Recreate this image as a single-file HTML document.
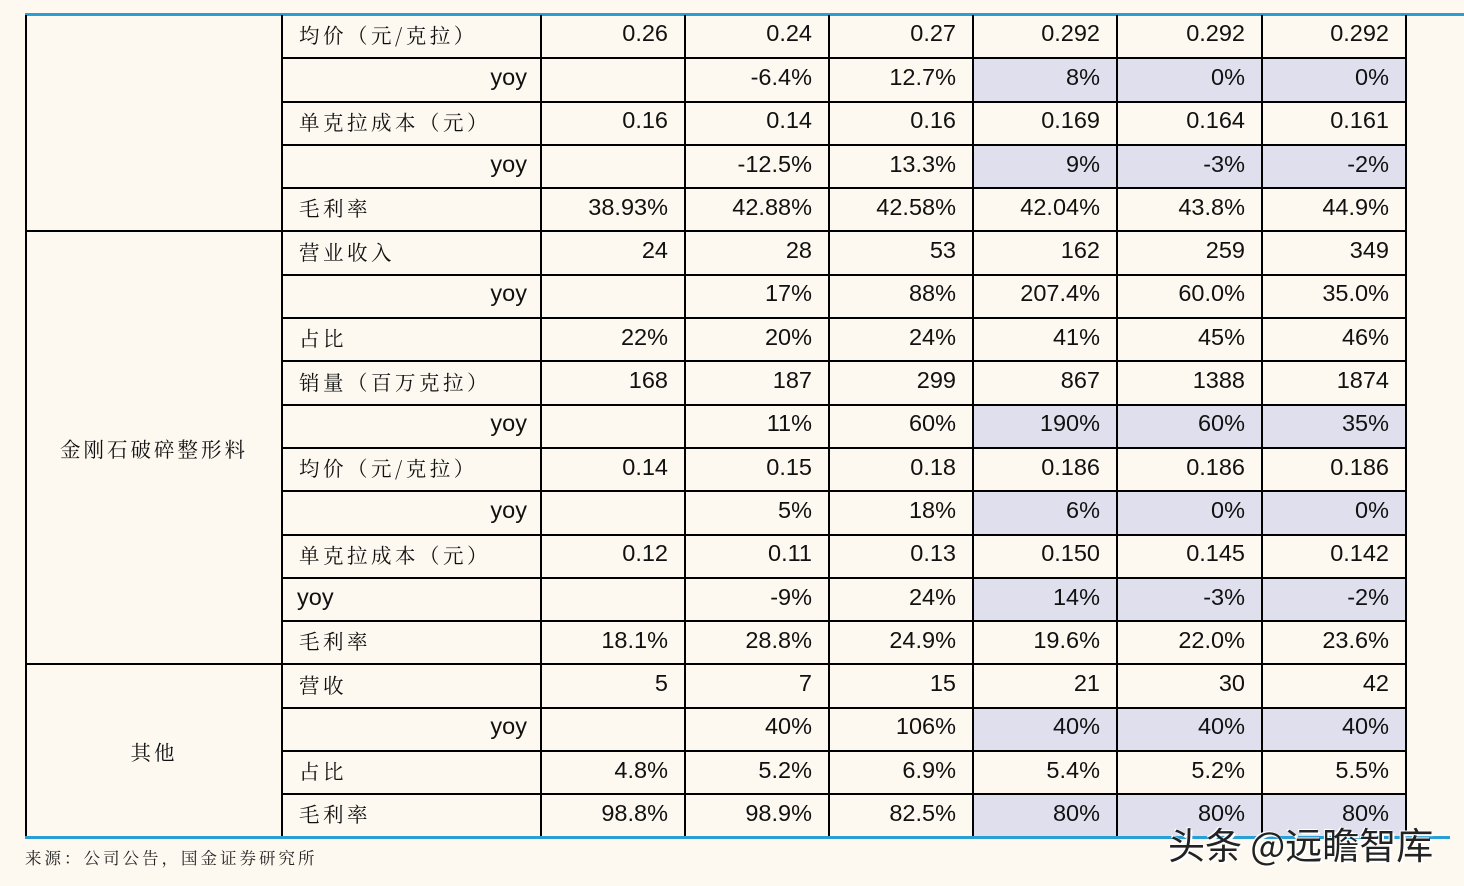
<!DOCTYPE html>
<html><head><meta charset="utf-8"><style>
html,body{margin:0;padding:0;background:#fdf9f0;width:1464px;height:886px;overflow:hidden;position:relative}
table{position:absolute;left:25px;top:15px;border-collapse:collapse;table-layout:fixed;width:1381px}
td{border:2px solid #000;padding:0 16px 5px 0;font-family:"Liberation Sans","Noto Sans CJK SC",sans-serif;font-size:23.5px;color:#111;text-align:right;white-space:nowrap;overflow:hidden}
tr{height:43.3px}
td.l{text-align:left;padding-left:16px;padding-right:0;font-family:"Noto Serif CJK SC","Liberation Serif",serif;font-size:20.5px;letter-spacing:3.5px}
td.y{text-align:right;padding-right:13px}
td.yl{text-align:left;padding-left:14px}
td.g{text-align:center;padding:0;font-family:"Noto Serif CJK SC",serif;font-size:20.5px;letter-spacing:3px;border-left:2px solid #000}
td.s{background:#e0dfee}
tr:first-child td{border-top:none}
.bl{position:absolute;height:3px;background:#2a9fd6}
.src{position:absolute;left:25px;top:845px;font-family:"Noto Serif CJK SC",serif;font-size:16.5px;letter-spacing:3px;color:#222}
.wm{position:absolute;left:1168px;top:816px;font-family:"Noto Sans CJK SC",sans-serif;font-size:37px;color:#222;text-shadow:2px 2px 0 #fff,-1px -1px 0 #fff}
</style></head><body>
<div class="bl" style="left:25px;top:13px;width:1439px"></div>
<table>
<colgroup><col style="width:256px"><col style="width:259px"><col style="width:144px"><col style="width:144px"><col style="width:144px"><col style="width:144px"><col style="width:145px"><col style="width:144px"></colgroup>
<tr><td class="g" rowspan="5"></td><td class="l">均价（元/克拉）</td><td>0.26</td><td>0.24</td><td>0.27</td><td>0.292</td><td>0.292</td><td>0.292</td></tr>
<tr><td class="y">yoy</td><td></td><td>-6.4%</td><td>12.7%</td><td class="s">8%</td><td class="s">0%</td><td class="s">0%</td></tr>
<tr><td class="l">单克拉成本（元）</td><td>0.16</td><td>0.14</td><td>0.16</td><td>0.169</td><td>0.164</td><td>0.161</td></tr>
<tr><td class="y">yoy</td><td></td><td>-12.5%</td><td>13.3%</td><td class="s">9%</td><td class="s">-3%</td><td class="s">-2%</td></tr>
<tr><td class="l">毛利率</td><td>38.93%</td><td>42.88%</td><td>42.58%</td><td>42.04%</td><td>43.8%</td><td>44.9%</td></tr>
<tr><td class="g" rowspan="10">金刚石破碎整形料</td><td class="l">营业收入</td><td>24</td><td>28</td><td>53</td><td>162</td><td>259</td><td>349</td></tr>
<tr><td class="y">yoy</td><td></td><td>17%</td><td>88%</td><td>207.4%</td><td>60.0%</td><td>35.0%</td></tr>
<tr><td class="l">占比</td><td>22%</td><td>20%</td><td>24%</td><td>41%</td><td>45%</td><td>46%</td></tr>
<tr><td class="l">销量（百万克拉）</td><td>168</td><td>187</td><td>299</td><td>867</td><td>1388</td><td>1874</td></tr>
<tr><td class="y">yoy</td><td></td><td>11%</td><td>60%</td><td class="s">190%</td><td class="s">60%</td><td class="s">35%</td></tr>
<tr><td class="l">均价（元/克拉）</td><td>0.14</td><td>0.15</td><td>0.18</td><td>0.186</td><td>0.186</td><td>0.186</td></tr>
<tr><td class="y">yoy</td><td></td><td>5%</td><td>18%</td><td class="s">6%</td><td class="s">0%</td><td class="s">0%</td></tr>
<tr><td class="l">单克拉成本（元）</td><td>0.12</td><td>0.11</td><td>0.13</td><td>0.150</td><td>0.145</td><td>0.142</td></tr>
<tr><td class="yl">yoy</td><td></td><td>-9%</td><td>24%</td><td class="s">14%</td><td class="s">-3%</td><td class="s">-2%</td></tr>
<tr><td class="l">毛利率</td><td>18.1%</td><td>28.8%</td><td>24.9%</td><td>19.6%</td><td>22.0%</td><td>23.6%</td></tr>
<tr><td class="g" rowspan="4">其他</td><td class="l">营收</td><td>5</td><td>7</td><td>15</td><td>21</td><td>30</td><td>42</td></tr>
<tr><td class="y">yoy</td><td></td><td>40%</td><td>106%</td><td class="s">40%</td><td class="s">40%</td><td class="s">40%</td></tr>
<tr><td class="l">占比</td><td>4.8%</td><td>5.2%</td><td>6.9%</td><td>5.4%</td><td>5.2%</td><td>5.5%</td></tr>
<tr><td class="l">毛利率</td><td>98.8%</td><td>98.9%</td><td>82.5%</td><td class="s">80%</td><td class="s">80%</td><td class="s">80%</td></tr>
</table>
<div class="bl" style="left:25px;top:836px;width:1425px"></div>
<div class="src">来源：公司公告，国金证券研究所</div>
<div class="wm">头条 @远瞻智库</div>
</body></html>
